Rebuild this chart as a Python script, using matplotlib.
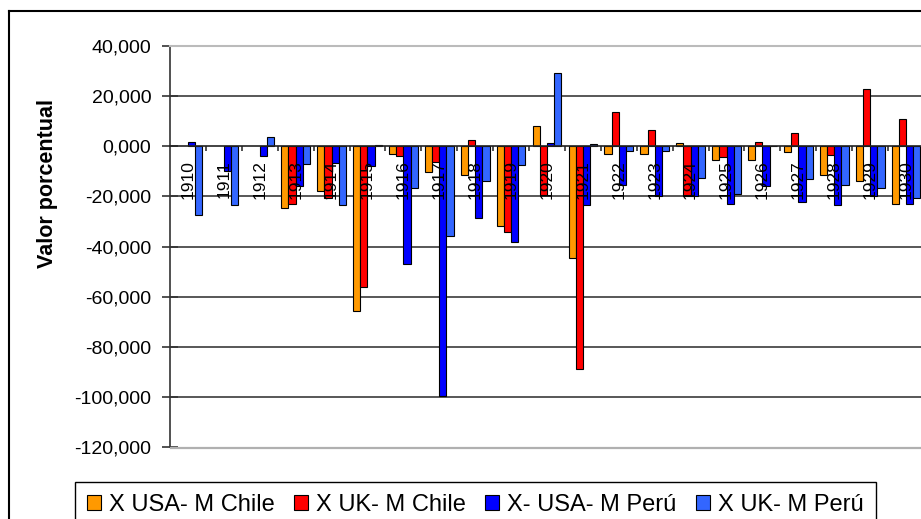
import numpy as np
import matplotlib
matplotlib.use('Agg')
import matplotlib.pyplot as plt
from matplotlib.lines import Line2D
from matplotlib.ticker import FixedLocator

plt.rcParams['font.family'] = ['Liberation Sans', 'DejaVu Sans']

nan = np.nan
years = [str(y) for y in range(1910, 1931)]
usa_chile = [nan, nan, nan, -24.7, -18.0, -65.6, -2.9, -10.4, -11.3, -32.0, 7.9,
             -44.6, -2.9, -2.9, 1.2, -5.3, -5.3, -2.3, -11.3, -13.7, -22.9]
uk_chile = [nan, nan, nan, -22.9, -20.7, -56.0, -4.0, -6.3, 2.3, -34.3, -19.6,
            -89.0, 13.5, 6.3, -19.7, -4.4, 1.7, 5.1, -3.5, 22.7, 10.7]
usa_peru = [1.8, -9.7, -4.0, -16.0, -6.7, -8.0, -46.9, -99.7, -28.7, -38.3, 1.1,
            -23.6, -15.3, -19.7, -19.7, -22.9, -16.0, -22.3, -23.6, -20.0, -22.9]
uk_peru = [-27.6, -23.6, 3.5, -6.9, -23.6, 0.5, -16.6, -36.0, -13.7, -7.3, 29.1,
           1.0, -1.7, -1.7, -12.7, -18.9, 0.0, -13.0, -15.6, -16.6, -20.7]
series = ['X USA- M Chile', 'X UK- M Chile', 'X- USA- M Perú', 'X UK- M Perú']
colores = ['#FF9900', '#FF0000', '#0000FF', '#3366FF']
yticks = [40, 20, 0, -20, -40, -60, -80, -100, -120]

W, H = 921, 519
fig = plt.figure(figsize=(W / 100, H / 100), dpi=100)
ax = fig.add_axes([170 / W, 1 - 447 / H, 754 / W, (447 - 46) / H])

x = np.arange(len(years))
w = 0.2
barras = []
for k, datos in enumerate([usa_chile, uk_chile, usa_peru, uk_peru]):
    b = ax.bar(x + (k - 1.5) * w, np.array(datos, dtype=float), w,
               color=colores[k], edgecolor='black', linewidth=0.8, zorder=1,
               label=series[k])
    barras.append(b)

ax.set_xlim(-0.5, len(years) - 0.5)
ax.set_ylim(-120, 40)

# lineas de division
for v in [20, -20, -40, -60, -80, -100]:
    ax.axhline(v, color='#2A2A2A', lw=1.1, zorder=0.6)

ax.spines['top'].set_color('#BBBBBB')
ax.spines['top'].set_linewidth(1.5)
ax.spines['right'].set_color('#BBBBBB')
ax.spines['left'].set_color('#333333')
ax.spines['left'].set_linewidth(1.2)
ax.spines['bottom'].set_position(('data', 0))
ax.spines['bottom'].set_color('#222222')
ax.spines['bottom'].set_linewidth(1.2)

ax.set_yticks(yticks)
ax.set_yticklabels([f'{v:.3f}'.replace('.', ',') for v in yticks], fontsize=14)
ax.tick_params(axis='y', direction='inout', length=11, width=1.2,
               color='#333333', pad=8)

ax.set_xticks(x)
ax.set_xticklabels(years, rotation=90, fontsize=12.5)
ax.tick_params(axis='x', which='major', length=0, pad=10)
ax.xaxis.set_minor_locator(FixedLocator(x[1:] - 0.5))
ax.tick_params(axis='x', which='minor', direction='out', length=3.5,
               width=1.2, color='#333333')

fig.text(47 / W, 1 - 183 / H, 'Valor porcentual', rotation=90, ha='center',
         va='center', fontsize=15.5, fontweight='bold')

leg = fig.legend(handles=barras, loc='upper left',
                 bbox_to_anchor=(75 / W, 1 - 482 / H), ncol=4, fontsize=17,
                 frameon=True, fancybox=False, edgecolor='black', framealpha=1,
                 handlelength=0.6, handleheight=0.6, handletextpad=0.35,
                 columnspacing=0.8, borderpad=0.5, borderaxespad=0)
leg.get_frame().set_linewidth(1.0)

# borde inferior del area de trazado (gris)
yb = 1 - 447.5 / H
fig.add_artist(Line2D([171 / W, 1.0], [yb, yb], color='#B0B0B0', lw=1.6,
                      transform=fig.transFigure, zorder=5))

# marco exterior
fig.add_artist(Line2D([9 / W, 9 / W], [1 - 11 / H, -0.1], color='black',
                      lw=1.5, transform=fig.transFigure))
fig.add_artist(Line2D([9 / W, 1.1], [1 - 11 / H, 1 - 11 / H], color='black',
                      lw=1.5, transform=fig.transFigure))

fig.savefig('out.png', dpi=100)
